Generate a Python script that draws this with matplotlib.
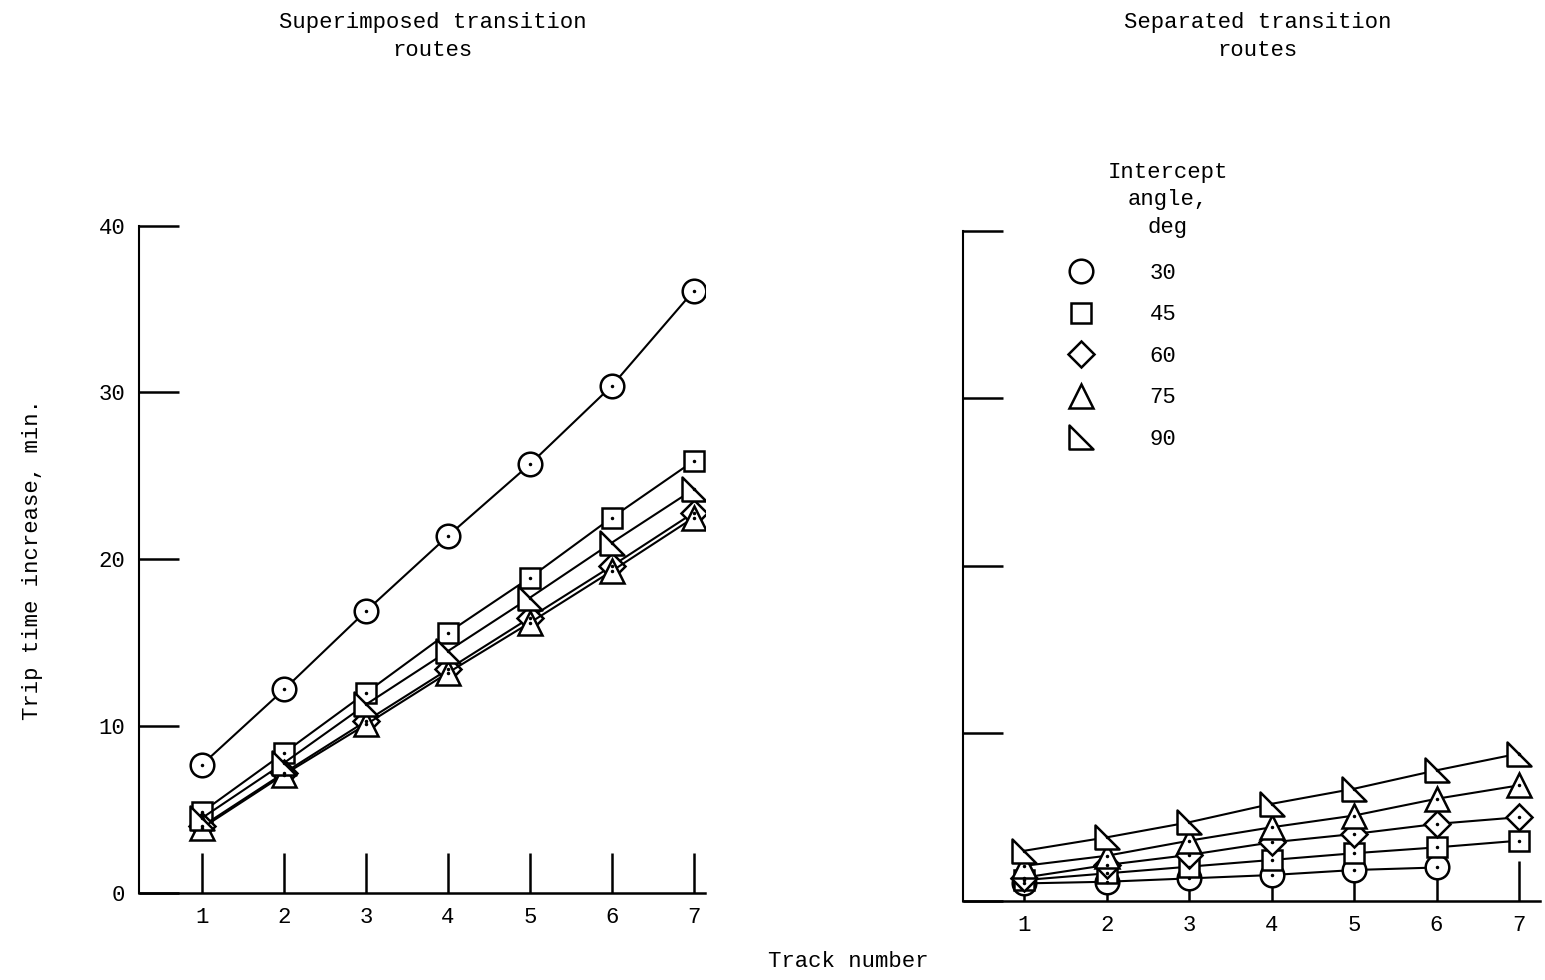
import matplotlib
matplotlib.use('Agg')
import matplotlib.pyplot as plt
from matplotlib.path import Path
from matplotlib.lines import Line2D

plt.rcParams['font.family'] = ['Liberation Mono', 'DejaVu Sans Mono']
plt.rcParams['font.size'] = 16

# data
tracks = [1, 2, 3, 4, 5, 6, 7]
angles = ['30', '45', '60', '75', '90']

# superimposed transition routes
sup_30 = [7.7, 12.2, 16.9, 21.4, 25.7, 30.4, 36.1]
sup_45 = [4.85, 8.4, 12.0, 15.6, 18.9, 22.5, 25.9]
sup_60 = [4.0, 7.2, 10.3, 13.4, 16.5, 19.6, 22.8]
sup_75 = [3.9, 7.1, 10.1, 13.2, 16.2, 19.3, 22.5]
sup_90 = [4.5, 7.8, 11.3, 14.5, 17.7, 21.0, 24.2]

# separated transition routes
sep_30 = [1.05, 1.15, 1.35, 1.55, 1.85, 2.0]
sep_45 = [1.25, 1.65, 2.05, 2.45, 2.85, 3.2, 3.6]
sep_60 = [1.4, 2.15, 2.75, 3.5, 4.0, 4.6, 5.0]
sep_75 = [2.1, 2.7, 3.6, 4.4, 5.1, 6.1, 6.9]
sep_90 = [3.0, 3.8, 4.7, 5.8, 6.7, 7.8, 8.8]

# right-angle triangle marker
rtri = Path([(-1, 1), (-1, -1), (1, -1), (-1, 1)],
            [Path.MOVETO, Path.LINETO, Path.LINETO, Path.CLOSEPOLY])

styles = [('o', 17), ('s', 15), ('D', 13), ('^', 17), (rtri, 17)]

fig = plt.figure(figsize=(15.45, 9.8), dpi=100)
ax1 = fig.add_axes([0.090, 0.0888, 0.366, 0.681])
ax2 = fig.add_axes([0.623, 0.0806, 0.374, 0.684])


def draw(ax, series):
    for vals, (mk, ms) in zip(series, styles):
        xs = tracks[:len(vals)]
        ax.plot(xs, vals, color='black', lw=1.5, marker=mk, ms=ms,
                mfc='white', mec='black', mew=1.8, zorder=3)
        ax.plot(xs, vals, ls='none', marker='o', ms=1.5, color='black', zorder=4)


draw(ax1, [sup_30, sup_45, sup_60, sup_75, sup_90])
draw(ax2, [sep_30, sep_45, sep_60, sep_75, sep_90])

for ax in (ax1, ax2):
    ax.set_ylim(0, 40)
    ax.set_yticks([0, 10, 20, 30, 40])
    ax.set_xticks(tracks)
    for s in ('top', 'right'):
        ax.spines[s].set_visible(False)
    ax.spines['left'].set_linewidth(1.5)
    ax.spines['bottom'].set_linewidth(1.8)
    ax.tick_params(direction='in', length=29, width=1.8, pad=10, labelsize=16)
    ax.patch.set_alpha(0)

ax1.set_xlim(0.23, 7.13)
ax2.set_xlim(0.25, 7.26)
ax2.set_yticklabels([])

ax1.set_ylabel('Trip time increase, min.', labelpad=40)
fig.text(0.549, 0.019, 'Track number', ha='center', va='center')
fig.text(0.280, 0.963, 'Superimposed transition\nroutes', ha='center', va='center',
         linespacing=1.45)
fig.text(0.814, 0.963, 'Separated transition\nroutes', ha='center', va='center',
         linespacing=1.45)

# legend
fig.text(0.756, 0.796, 'Intercept\nangle,\ndeg', ha='center', va='center',
         linespacing=1.4)
handles = [Line2D([], [], ls='none', marker=mk, ms=ms, mfc='white', mec='black', mew=1.8)
           for mk, ms in styles]
leg = ax2.legend(handles, angles, frameon=False,
                 loc='upper left', bbox_to_anchor=(0.685, 0.743), bbox_transform=fig.transFigure,
                 handlelength=1.0, handletextpad=2.6, labelspacing=0.92, fontsize=16,
                 borderpad=0)

plt.savefig('out.png', dpi=100)
